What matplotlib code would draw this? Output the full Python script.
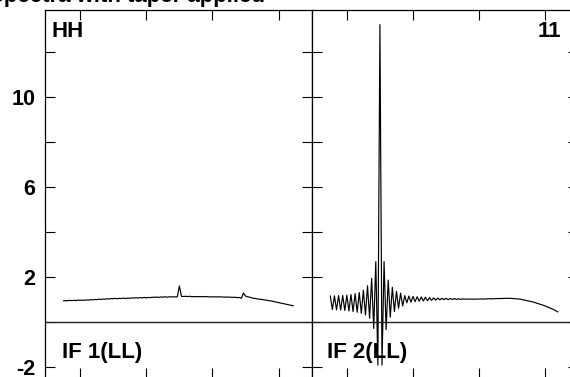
import numpy as np
import matplotlib
matplotlib.use("Agg")
from matplotlib import pyplot as plt
from matplotlib.ticker import FuncFormatter

plt.rcParams['font.family'] = ['Liberation Sans', 'DejaVu Sans']
plt.rcParams['font.weight'] = 'bold'

# channel numbers of each IF
chan_if1 = np.arange(8, 120)
chan_if2 = np.arange(8, 119)

# IF 1 (LL) amplitude
amp_if1 = [
    0.93, 0.94, 0.93, 0.95, 0.94, 0.95, 0.94, 0.96, 0.95, 0.96,
    0.95, 0.97, 0.96, 0.98, 0.97, 0.99, 0.98, 1.00, 0.99, 1.01,
    1.00, 1.02, 1.01, 1.03, 1.02, 1.04, 1.02, 1.04, 1.03, 1.05,
    1.03, 1.05, 1.04, 1.06, 1.05, 1.07, 1.05, 1.07, 1.06, 1.08,
    1.06, 1.08, 1.07, 1.09, 1.08, 1.10, 1.08, 1.10, 1.09, 1.11,
    1.09, 1.11, 1.10, 1.11, 1.10, 1.11,
    1.59,
    1.13, 1.12, 1.13, 1.12, 1.13, 1.11, 1.12, 1.11, 1.12, 1.11,
    1.12, 1.11, 1.12, 1.10, 1.11, 1.10, 1.11, 1.10, 1.11, 1.10,
    1.10, 1.09, 1.10, 1.09, 1.09, 1.08, 1.09, 1.07, 1.08, 1.04,
    1.28,
    1.14, 1.11, 1.09, 1.06, 1.04, 1.03, 1.01, 1.00, 0.99, 0.97,
    0.96, 0.94, 0.93, 0.91, 0.89, 0.87, 0.85, 0.83, 0.81, 0.79,
    0.77, 0.75, 0.73, 0.71,
]

# IF 2 (LL) amplitude
amp_if2 = [
    1.14, 0.54, 1.15, 0.53, 1.16, 0.52, 1.17, 0.50, 1.18, 0.48,
    1.21, 0.45, 1.25, 0.42, 1.30, 0.37, 1.40, 0.30, 1.60, 0.15,
    1.93, -0.30, 2.67, -1.93, 13.2, -1.93, 2.67, -0.35, 1.85, 0.20,
    1.53, 0.45, 1.35, 0.60, 1.27, 0.70, 1.16, 0.84, 1.14, 0.87,
    1.12, 0.89, 1.11, 0.91, 1.10, 0.92, 1.09, 0.93, 1.07, 0.95,
    1.06, 0.96, 1.05, 0.97, 1.04, 0.98, 1.04, 0.98, 1.03, 0.99,
    1.03, 0.99, 1.02, 0.99, 1.02, 1.00,
    1.01, 1.00, 1.01, 1.00, 1.01, 1.00, 1.01, 1.01, 1.01, 1.01,
    1.02, 1.02, 1.02, 1.02, 1.03, 1.03, 1.03, 1.03, 1.04, 1.04, 1.04,
    1.04, 1.03, 1.03, 1.02, 1.01, 1.00, 0.98, 0.96, 0.94, 0.92,
    0.90, 0.88, 0.85, 0.82, 0.79, 0.76, 0.73, 0.70, 0.66, 0.62,
    0.58, 0.54, 0.49, 0.44,
]

x_ticks = [16, 48, 80, 112]
y_ticks = [-2, 0, 2, 4, 6, 8, 10, 12]
y_labelled = [-2, 2, 6, 10]

W, H = 570, 377
fig = plt.figure(figsize=(W / 100, H / 100), dpi=100)

bottom_px, top_px = 378, 10
y0 = 1 - bottom_px / H
hgt = (bottom_px - top_px) / H
wid = 266.7 / W
ax1 = fig.add_axes([45 / W, y0, wid, hgt])
ax2 = fig.add_axes([311.7 / W, y0, wid, hgt])

fmt = FuncFormatter(lambda v, p: '%d' % v if int(round(v)) in y_labelled else '')

for ax, ch, amp in [(ax1, chan_if1, amp_if1), (ax2, chan_if2, amp_if2)]:
    ax.plot(ch, amp, color='black', lw=0.85)
    ax.axhline(0, color='#222222', lw=1.0)
    ax.set_xlim(-1, 128)
    ax.set_ylim(-2.5, 13.85)
    ax.set_xticks(x_ticks)
    ax.set_yticks(y_ticks)
    ax.tick_params(direction='in', length=7, width=0.8, top=True, right=True,
                   labelsize=15.5, pad=7)
    ax.set_xticklabels([])
    for s in ax.spines.values():
        s.set_linewidth(0.9)

ax1.yaxis.set_major_formatter(fmt)
for lab in ax1.get_yticklabels():
    lab.set_fontweight('bold')
ax2.set_yticklabels([])

ax1.text(0.0225, 0.926, 'HH', transform=ax1.transAxes, fontsize=16,
         fontweight='bold', va='baseline', ha='left')
ax2.text(0.937, 0.926, '11', transform=ax2.transAxes, fontsize=16,
         fontweight='bold', va='baseline', ha='right')
ax1.text(0.0626, 0.0535, 'IF 1(LL)', transform=ax1.transAxes, fontsize=16,
         fontweight='bold', va='baseline', ha='left')
ax2.text(0.056, 0.0535, 'IF 2(LL)', transform=ax2.transAxes, fontsize=16,
         fontweight='bold', va='baseline', ha='left')

# title mostly cut off by the top edge
fig.text(-0.02, 1 - 2.0 / H, 'Spectra with taper applied', fontsize=16,
         fontweight='bold', va='baseline', ha='left')

fig.savefig('out.png', dpi=100)
